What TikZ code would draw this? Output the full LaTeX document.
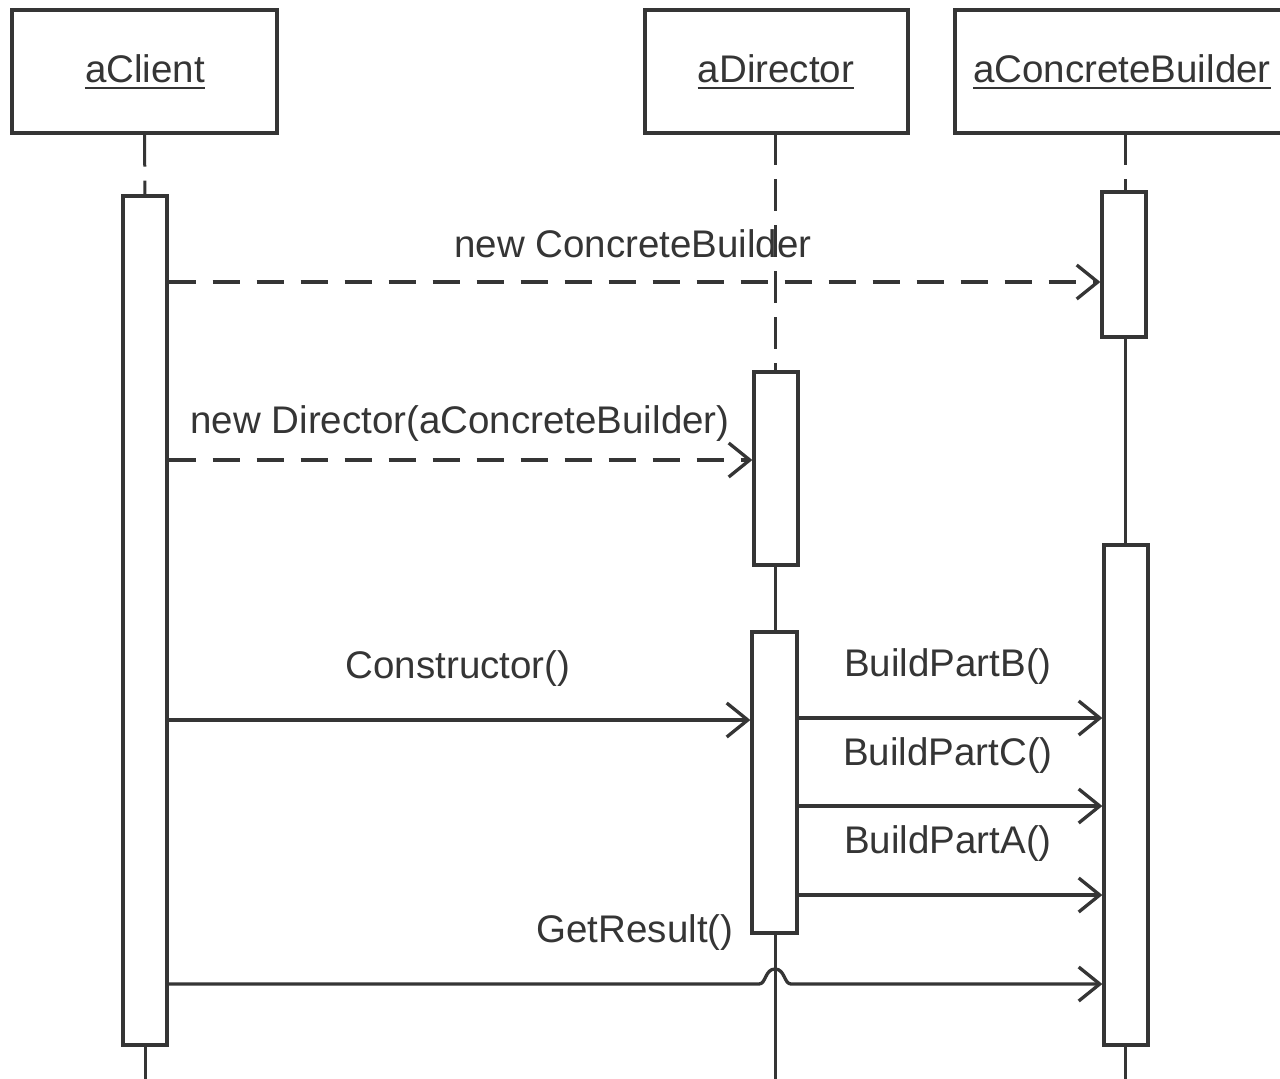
\documentclass[tikz,border=0pt]{standalone}
\usepackage{fontspec}
\setmainfont{Liberation Sans}
\usetikzlibrary{arrows.meta,calc}
\definecolor{ink}{HTML}{353535}
\begin{document}
\begin{tikzpicture}[x=1pt,y=-1pt,
  obj/.style={draw=ink, line width=3.3pt, fill=white, inner sep=0pt, minimum height=123pt},
  act/.style={draw=ink, line width=3.3pt, fill=white, inner sep=0pt, minimum width=44pt},
  lbl/.style={font=\fontsize{38.5}{42}\selectfont, text=ink, inner sep=0pt, anchor=base},
  life/.style={draw=ink, line width=3pt},
  lifedash/.style={life, dash pattern=on 32pt off 14pt},
  msg/.style={draw=ink, line width=3.3pt, -{Straight Barb[length=21pt,width=34pt]}},
  msgdash/.style={msg, dash pattern=on 27pt off 17pt},
  uline/.style={draw=ink, line width=2.4pt}]
\useasboundingbox (0,0) rectangle (1280,1079);
\clip (0,0) rectangle (1280,1079);
\fill[white] (0,0) rectangle (1280,1079);

% header boxes
\node[obj, minimum width=265pt] (client) at (144.5,71.5) {};
\node[obj, minimum width=263pt] (director) at (776.5,71.5) {};
\node[obj, minimum width=340pt] (builder) at (1125,71.5) {};
\node[lbl] (tclient) at (145,82) {aClient};
\node[lbl] (tdirector) at (776,82) {aDirector};
\node[lbl] (tbuilder) at (1122,82) {aConcreteBuilder};
\draw[uline] ($(tclient.base west)+(0,6)$) -- ($(tclient.base east)+(0,6)$);
\draw[uline] ($(tdirector.base west)+(0,6)$) -- ($(tdirector.base east)+(0,6)$);
\draw[uline] ($(tbuilder.base west)+(0,6)$) -- ($(tbuilder.base east)+(0,6)$);

% bottom ends of lifelines
\coordinate (cbot) at (145,1085);
\coordinate (dbot) at (775,1085);
\coordinate (bbot) at (1125,1085);

% lifelines (drawn before activation boxes)
\draw[lifedash] (client.south) -- (145,196);
\draw[lifedash] (775,133) -- (775,372);
\draw[lifedash] (1125,133) -- (1125,192);
\draw[life] (775,565) -- (775,632);
\draw[life] (1125,337) -- (1125,545);
\draw[life] (145,1045) -- (cbot);
\draw[life] (775,933) -- (dbot);
\draw[life] (1125,1045) -- (bbot);

% activation boxes
\node[act, minimum height=849pt] (ca) at (145,620.5) {};
\node[act, minimum height=193pt] (da1) at (776,468.5) {};
\node[act, minimum height=301pt, minimum width=45pt] (da2) at (774.5,782.5) {};
\node[act, minimum height=145pt] (ba1) at (1124,264.5) {};
\node[act, minimum height=500pt] (ba2) at (1126,795) {};

% message levels
\coordinate (y1) at (0,282);
\coordinate (y2) at (0,460);
\coordinate (y3) at (0,720);
\coordinate (y4) at (0,718);
\coordinate (y5) at (0,806);
\coordinate (y6) at (0,895);
\coordinate (y7) at (0,984);
\coordinate (jump) at (775,984);

% messages
\draw[msgdash] (ca.east |- y1) -- (ba1.west |- y1);
\draw[msgdash] (ca.east |- y2) -- (da1.west |- y2);
\draw[msg] (ca.east |- y3) -- (da2.west |- y3);
\draw[msg] (da2.east |- y4) -- (ba2.west |- y4);
\draw[msg] (da2.east |- y5) -- (ba2.west |- y5);
\draw[msg] (da2.east |- y6) -- (ba2.west |- y6);
\draw[msg] (ca.east |- y7) -- ($(jump)+(-16,0)$)
  .. controls ($(jump)+(-9,0)$) and ($(jump)+(-10,-15)$) .. ($(jump)+(0,-15)$)
  .. controls ($(jump)+(10,-15)$) and ($(jump)+(9,0)$) .. ($(jump)+(16,0)$)
  -- (ba2.west |- y7);

% labels
\node[lbl] (l1) at (633,257) {new ConcreteBuilder};
\node[lbl] (l2) at (460,433) {new Director(aConcreteBuilder)};
\node[lbl] (l3) at (458,678) {Constructor()};
\node[lbl] (l4) at (948,676) {BuildPartB()};
\node[lbl] (l5) at (948,765) {BuildPartC()};
\node[lbl] (l6) at (948,853) {BuildPartA()};
\node[lbl] (l7) at (635,942) {GetResult()};
\end{tikzpicture}
\end{document}
